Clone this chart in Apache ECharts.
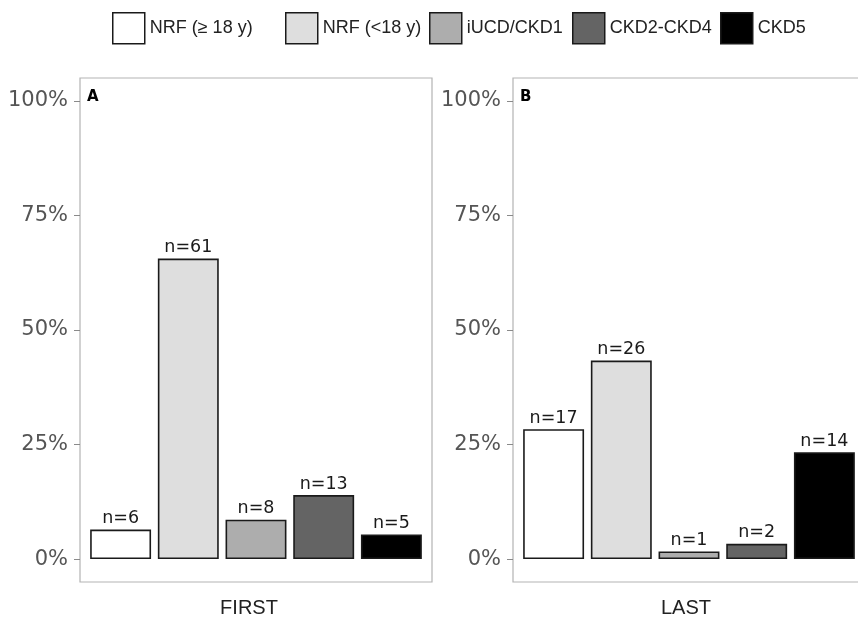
<!DOCTYPE html>
<html>
<head>
<meta charset="utf-8">
<script src="https://cdn.jsdelivr.net/npm/echarts@6/dist/echarts.min.js"></script>
<style>
  html, body { margin: 0; padding: 0; background: #ffffff; }
  #chart { width: 858px; height: 621px; }
</style>
</head>
<body>
<div id="chart"></div>
<script>
// Kidney-function groups and patient counts at first and last visit
const groups = ['NRF (≥ 18 y)', 'NRF (<18 y)', 'iUCD/CKD1', 'CKD2-CKD4', 'CKD5'];
const firstCounts = [6, 61, 8, 13, 5];
const lastCounts = [17, 26, 1, 2, 14];
const panelCounts = [firstCounts, lastCounts];
const panelTitles = ['FIRST', 'LAST'];
const panelTags = ['A', 'B'];
const yTicks = [0, 25, 50, 75, 100];

// Styling
const fills = ['#ffffff', '#dedede', '#adadad', '#646464', '#000000'];
const outline = '#1a1a1a';
const frames = [
  { x: 80, y: 78, w: 352, h: 504 },
  { x: 513, y: 78, w: 352, h: 504 }
];
const titleShift = [14, 6];
const legendLefts = [112, 285, 429, 572, 720];

const chart = echarts.init(document.getElementById('chart'), null, { renderer: 'canvas' });

const grids = [], xAxes = [], yAxes = [], series = [], graphics = [];

frames.forEach((f, p) => {
  // discrete scale: 5 categories plus 0.6 of a band padding at each side
  const unit = f.w / 5.2;
  const left = f.x + 0.1 * unit;
  grids.push({
    left: left, top: f.y, width: 5 * unit, height: f.h,
    containLabel: false, outerBoundsMode: 'none'
  });

  xAxes.push({
    type: 'category', gridIndex: p, data: groups,
    axisLine: { show: false }, axisTick: { show: false }, axisLabel: { show: false },
    splitLine: { show: false },
    name: panelTitles[p], nameLocation: 'middle', nameGap: 16,
    nameTextStyle: {
      fontSize: 20, fontFamily: 'Liberation Sans', color: '#222222',
      padding: [0, titleShift[p], 0, 0]
    }
  });

  yAxes.push({
    type: 'value', gridIndex: p, min: -5, max: 105,
    offset: left - f.x,
    axisLine: { show: false },
    splitLine: { show: false },
    axisTick: { show: true, length: 6, customValues: yTicks, lineStyle: { color: '#8a8a8a', width: 1 } },
    axisLabel: {
      show: true, customValues: yTicks, margin: 12,
      formatter: v => v + '%',
      fontSize: 21, fontFamily: 'DejaVu Sans', color: '#555555'
    }
  });

  const counts = panelCounts[p];
  const total = counts.reduce((a, b) => a + b, 0);
  groups.forEach((g, k) => {
    series.push({
      type: 'bar', name: g,
      xAxisIndex: p, yAxisIndex: p,
      stack: 'panel' + p,
      barWidth: '90%',
      itemStyle: { color: fills[k], borderColor: outline, borderWidth: 1.6 },
      label: {
        show: true, position: 'top', distance: 2,
        formatter: 'n=' + counts[k],
        fontSize: 17.5, fontFamily: 'DejaVu Sans', color: '#1a1a1a'
      },
      data: groups.map((_, j) => j === k ? counts[k] / total * 100 : null)
    });
  });

  graphics.push({
    type: 'rect', silent: true, z: 0,
    shape: { x: f.x, y: f.y, width: f.w, height: f.h },
    style: { fill: null, stroke: '#b3b3b3', lineWidth: 1.2 }
  });
  graphics.push({
    type: 'text', silent: true,
    x: f.x + 7, y: f.y + 12,
    style: { text: panelTags[p], font: 'bold 15px "DejaVu Sans"', fill: '#000000' }
  });
});

const legends = groups.map((g, k) => ({
  data: [g],
  left: legendLefts[k], top: 12,
  padding: 0,
  icon: 'rect',
  itemWidth: 32, itemHeight: 31,
  selectedMode: false,
  itemStyle: { borderColor: outline, borderWidth: 1.5 },
  textStyle: { fontSize: 18, fontFamily: 'Liberation Sans', color: '#222222' }
}));

chart.setOption({
  animation: false,
  backgroundColor: '#ffffff',
  legend: legends,
  grid: grids,
  xAxis: xAxes,
  yAxis: yAxes,
  series: series,
  graphic: graphics
});
</script>
</body>
</html>
